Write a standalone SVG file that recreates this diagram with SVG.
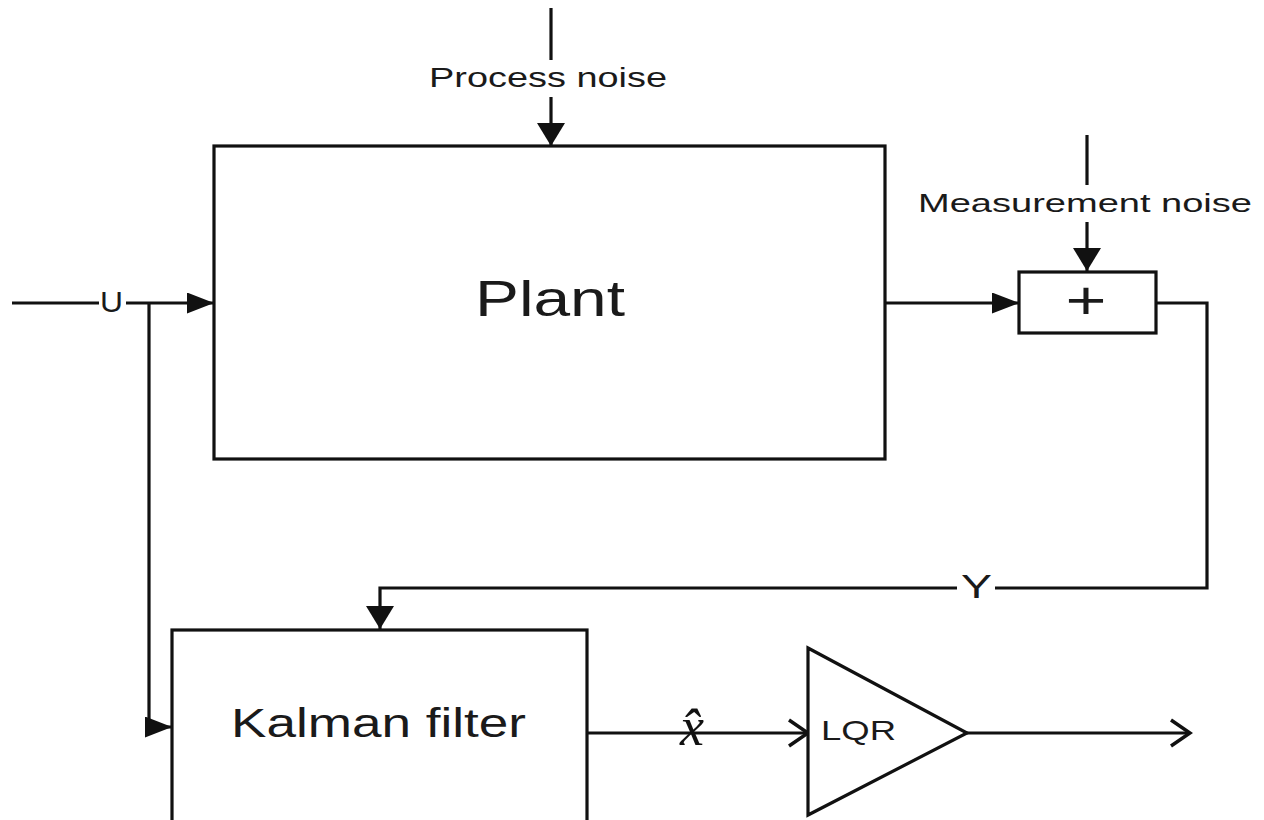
<svg xmlns="http://www.w3.org/2000/svg" width="1264" height="820" viewBox="0 0 1264 820">
<style>
.box{fill:#fff;stroke:#111;stroke-width:3.2}
.ln{fill:none;stroke:#111;stroke-width:3.2}
.t{font-family:"Liberation Sans",Arial,sans-serif;fill:#1a1a1a}
</style>
<defs>
<marker id="arrowR" markerUnits="userSpaceOnUse" viewBox="0 0 27 21" markerWidth="27" markerHeight="21" refX="27" refY="10.5" orient="0">
<path d="M0,0 L27,10.5 L0,21 z" fill="#111"/>
</marker>
<marker id="arrowD" markerUnits="userSpaceOnUse" viewBox="0 0 28 23" markerWidth="28" markerHeight="23" refX="14" refY="23" orient="0">
<path d="M0,0 L28,0 L14,23 z" fill="#111"/>
</marker>
<marker id="openR" markerUnits="userSpaceOnUse" viewBox="-2 -2 24 30" markerWidth="24" markerHeight="30" refX="19" refY="13" orient="0">
<path d="M0,0 L19,13 L0,26" fill="none" stroke="#111" stroke-width="3.5"/>
</marker>
</defs>
<rect width="1264" height="820" fill="#fff"/>

<g id="connectors">
<path class="ln" d="M551,8 V60"/>
<path class="ln" d="M551,97 V146" marker-end="url(#arrowD)"/>
<path class="ln" d="M1087,135 V185"/>
<path class="ln" d="M1087,222 V271" marker-end="url(#arrowD)"/>
<path class="ln" d="M12,303 H99"/>
<path class="ln" d="M126,303 H214" marker-end="url(#arrowR)"/>
<path class="ln" d="M149,303 V727 H172" marker-end="url(#arrowR)"/>
<path class="ln" d="M885,303 H1019" marker-end="url(#arrowR)"/>
<path class="ln" d="M1156,303 H1207 V588 H995"/>
<path class="ln" d="M957,588 H380 V629" marker-end="url(#arrowD)"/>
<path class="ln" d="M587,733 H808" marker-end="url(#openR)"/>
<path class="ln" d="M967,733 H1190" marker-end="url(#openR)"/>
<text class="t" x="429" y="87" font-size="28" textLength="238" lengthAdjust="spacingAndGlyphs">Process noise</text>
<text class="t" x="918" y="212" font-size="25" textLength="334" lengthAdjust="spacingAndGlyphs">Measurement noise</text>
<text class="t" x="100" y="312" font-size="30" textLength="23" lengthAdjust="spacingAndGlyphs">U</text>
<text class="t" x="961" y="598" font-size="33" textLength="31" lengthAdjust="spacingAndGlyphs">Y</text>
<text x="692" y="745" font-size="54" font-style="italic" text-anchor="middle" font-family="'Liberation Serif','DejaVu Serif',serif" fill="#111">x̂</text>
</g>

<g id="plant">
<rect class="box" x="214" y="146" width="671" height="313"/>
<text class="t" x="475" y="316" font-size="50" textLength="150" lengthAdjust="spacingAndGlyphs">Plant</text>
</g>

<g id="sum">
<rect class="box" x="1019" y="272" width="137" height="61"/>
<text class="t" x="1086" y="319" font-size="54" text-anchor="middle" textLength="41" lengthAdjust="spacingAndGlyphs">+</text>
</g>

<g id="kalman">
<rect class="box" x="172" y="630" width="415" height="220"/>
<text class="t" x="231" y="737" font-size="40" textLength="295" lengthAdjust="spacingAndGlyphs">Kalman filter</text>
</g>

<g id="lqr">
<path class="box" d="M808,648 L967,733 L808,815 z"/>
<text class="t" x="821" y="740" font-size="28" textLength="75" lengthAdjust="spacingAndGlyphs">LQR</text>
</g>
</svg>
